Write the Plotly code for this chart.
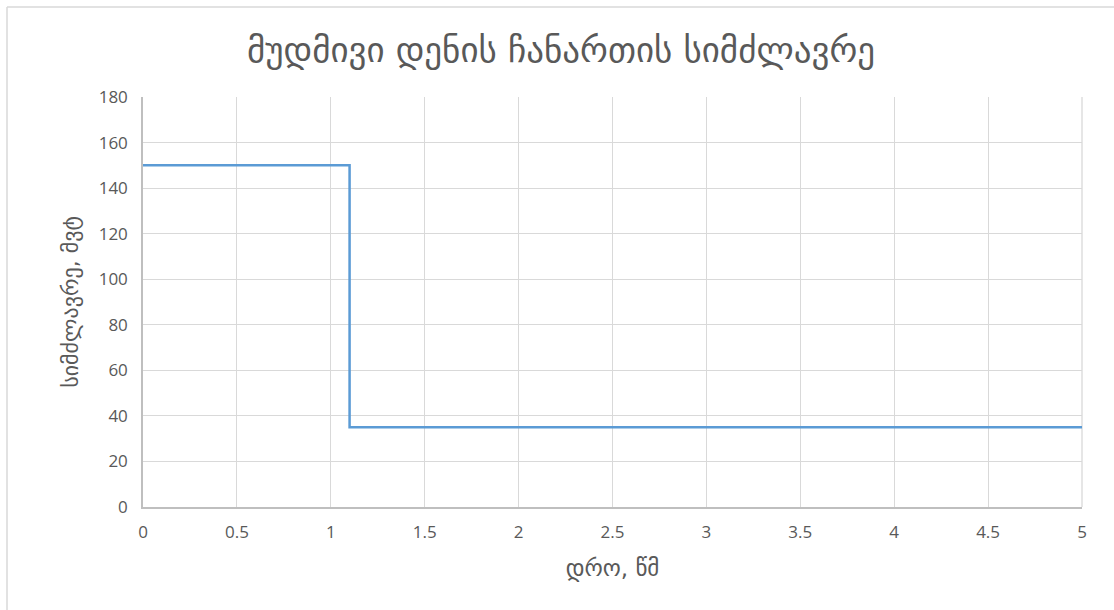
import plotly.graph_objects as go

# Power of the DC insert over time (step profile)
time_s = [0, 1.1, 5]
power_mw = [150, 35, 35]

x_ticks = [0, 0.5, 1, 1.5, 2, 2.5, 3, 3.5, 4, 4.5, 5]
x_tick_labels = ["0", "0.5", "1", "1.5", "2", "2.5", "3", "3.5", "4", "4.5", "5"]
y_ticks = [0, 20, 40, 60, 80, 100, 120, 140, 160, 180]

title_text = "მუდმივი დენის ჩანართის სიმძლავრე"
x_title = "დრო, წმ"
y_title = "სიმძლავრე, მვტ"

W, H = 1114, 610
ML, MR, MT, MB = 143, 32, 97, 103
pw, ph = W - ML - MR, H - MT - MB

fig = go.Figure()
fig.add_trace(go.Scatter(
    x=time_s, y=power_mw, mode="lines", line_shape="hv",
    line=dict(color="#5b9bd5", width=2.5), showlegend=False,
))

grid = "#d9d9d9"
text_color = "#595959"
tick_font = dict(family="Open Sans, DejaVu Sans, sans-serif", size=17, color=text_color)

fig.update_layout(
    width=W, height=H,
    margin=dict(l=ML, r=MR, t=MT, b=MB),
    paper_bgcolor="white", plot_bgcolor="white",
    font=dict(family="DejaVu Sans, sans-serif", color=text_color),
    title=dict(text=title_text, x=561 / W, xref="container", xanchor="center",
               y=1 - 50 / H, yanchor="middle", yref="container",
               font=dict(family="DejaVu Sans, sans-serif", size=35, color=text_color)),
    xaxis=dict(range=[0, 5], tickvals=x_ticks, ticktext=x_tick_labels,
               showgrid=True, gridcolor=grid, gridwidth=1.3,
               showline=True, linecolor="#bfbfbf", linewidth=1.5,
               zeroline=False, ticks="", tickfont=tick_font, ticklabelstandoff=9,
               title=dict(text=x_title, standoff=18,
                          font=dict(family="DejaVu Sans, sans-serif", size=23, color=text_color))),
    yaxis=dict(range=[0, 180], tickvals=y_ticks,
               showgrid=True, gridcolor=grid, gridwidth=1.3,
               showline=True, linecolor="#bfbfbf", linewidth=1.5,
               zeroline=False, ticks="", tickfont=tick_font, ticklabelstandoff=10,
               title=dict(text=y_title, standoff=14,
                          font=dict(family="DejaVu Sans, sans-serif", size=22, color=text_color))),
)

# Right-hand vertical gridline closing the plot area
fig.add_shape(type="line", xref="paper", yref="paper", x0=1, x1=1, y0=0, y1=1,
              line=dict(color=grid, width=1.3), layer="below")

# Chart frame (top and left edges)
left_px, top_px = 7, 7
fx = (left_px - ML) / pw
fy = 1 + (MT - top_px) / ph
fig.add_shape(type="line", xref="paper", yref="paper", x0=fx, x1=(W - ML) / pw + 0.01,
              y0=fy, y1=fy, line=dict(color="#d9d9d9", width=1.5))
fig.add_shape(type="line", xref="paper", yref="paper", x0=fx, x1=fx,
              y0=fy, y1=-(MB) / ph - 0.01, line=dict(color="#d9d9d9", width=1.5))

fig.write_html("out.html")
